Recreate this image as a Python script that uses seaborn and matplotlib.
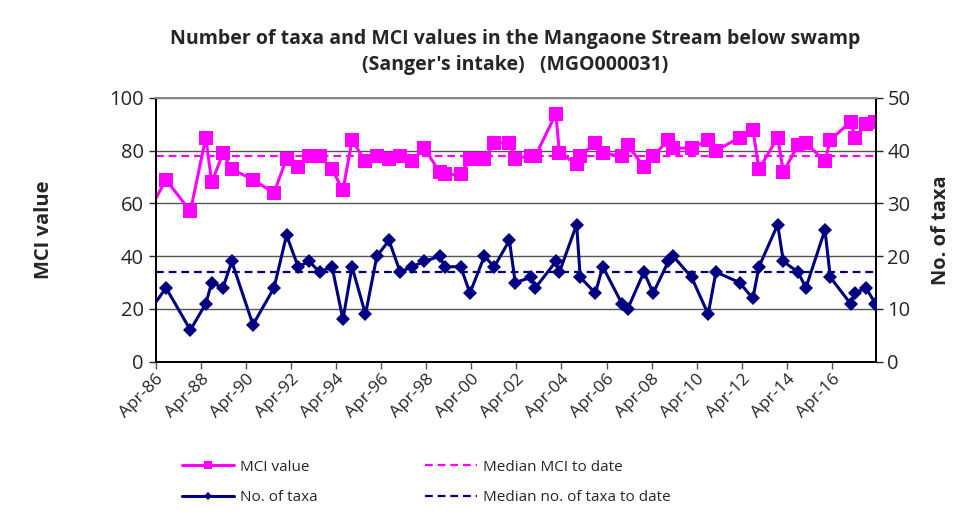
import pandas as pd
import matplotlib
matplotlib.use('Agg')
import matplotlib.pyplot as plt
import matplotlib.dates as mdates
import seaborn as sns

sns.set_style('white')
plt.rcParams['font.family'] = ['Open Sans', 'DejaVu Sans']

# sample dates (first one sits just left of the axis)
sample_dates = ['1985-11-15', '1986-09-15', '1987-10-15', '1988-06-20', '1988-09-25', '1989-03-25',
                '1989-08-15', '1990-07-25', '1991-07-01', '1992-01-20', '1992-07-25', '1993-01-22',
                '1993-07-08', '1994-01-26', '1994-07-22', '1994-12-16', '1995-07-22', '1996-01-22',
                '1996-08-06', '1997-02-03', '1997-08-10', '1998-02-28', '1998-11-03', '1999-01-26',
                '1999-10-12', '2000-03-09', '2000-10-30', '2001-04-08', '2001-12-09', '2002-03-13',
                '2002-11-28', '2003-02-03', '2004-01-01', '2004-02-28', '2004-12-02', '2005-01-30',
                '2005-10-01', '2006-01-30', '2006-12-06', '2007-03-09', '2007-11-28', '2008-04-26',
                '2008-12-27', '2009-03-16', '2010-01-08', '2010-10-04', '2011-02-06', '2012-02-24',
                '2012-09-27', '2013-01-04', '2013-11-03', '2014-02-03', '2014-09-27', '2015-02-03',
                '2015-12-09', '2016-03-05', '2017-01-26', '2017-04-08', '2017-10-04', '2018-03-05']
mci_values = [56, 69, 57, 85, 68, 79, 73, 69, 64, 77, 74, 78, 78, 73, 65, 84, 76, 78, 77, 78,
              76, 81, 72, 71, 71, 77, 77, 83, 83, 77, 78, 78, 94, 79, 75, 78, 83, 79, 78, 82,
              74, 78, 84, 81, 81, 84, 80, 85, 88, 73, 85, 72, 82, 83, 76, 84, 91, 85, 90, 91]
taxa_counts = [9, 14, 6, 11, 15, 14, 19, 7, 14, 24, 18, 19, 17, 18, 8, 18, 9, 20, 23, 17,
               18, 19, 20, 18, 18, 13, 20, 18, 23, 15, 16, 14, 19, 17, 26, 16, 13, 18, 11, 10,
               17, 13, 19, 20, 16, 9, 17, 15, 12, 18, 26, 19, 17, 14, 25, 16, 11, 13, 14, 11]
median_mci = 78
median_taxa = 17

axis_start = '1986-04-01'
axis_end = '2018-03-10'
tick_dates = ['%d-04-01' % y for y in range(1986, 2017, 2)]

df = pd.DataFrame({'date': pd.to_datetime(sample_dates), 'mci': mci_values, 'taxa': taxa_counts})

pink = '#FF00FF'
navy = '#000080'

fig = plt.figure(figsize=(9.69, 5.13), dpi=100)
ax = fig.add_axes([0.1607, 0.295, 0.7430, 0.514])
ax2 = ax.twinx()

sns.lineplot(data=df, x='date', y='mci', ax=ax, color=pink, marker='s', markersize=10.3,
             markeredgewidth=0, linewidth=2.2, label='MCI value', legend=False, zorder=3)
ax.axhline(median_mci, color=pink, linestyle=(0, (3.5, 2.2)), linewidth=1.6,
           label='Median MCI to date', zorder=2)

sns.lineplot(data=df, x='date', y='taxa', ax=ax2, color=navy, marker='D', markersize=7,
             markeredgewidth=0, linewidth=2.2, label='No. of taxa', legend=False, zorder=3)
ax2.axhline(median_taxa, color=navy, linestyle=(0, (3.5, 2.2)), linewidth=1.6,
            label='Median no. of taxa to date', zorder=2)

ax.set_xlim(pd.Timestamp(axis_start), pd.Timestamp(axis_end))
ax.set_ylim(0, 100)
ax2.set_ylim(0, 50)
ax.set_yticks(range(0, 101, 20))
ax2.set_yticks(range(0, 51, 10))
ax.set_xticks(pd.to_datetime(tick_dates))
ax.xaxis.set_major_formatter(mdates.DateFormatter('%b-%y'))

ax.yaxis.grid(True, color='#555555', linewidth=1)
ax.xaxis.grid(False)
ax2.grid(False)

ax.tick_params(axis='x', direction='out', length=5, width=1, color='#555555', labelsize=12.5,
               bottom=True, pad=2)
ax.tick_params(axis='y', direction='out', length=5, width=1, labelsize=14.5, left=True)
ax2.tick_params(axis='y', direction='out', length=5, width=1, labelsize=14.5, right=True)
for lbl in ax.get_xticklabels():
    lbl.set_rotation(45)
    lbl.set_ha('right')
    lbl.set_rotation_mode('anchor')

for a in (ax, ax2):
    for side in ('left', 'right', 'bottom'):
        a.spines[side].set_color('black')
        a.spines[side].set_linewidth(1.3)
    a.spines['top'].set_color('#888888')
    a.spines['top'].set_linewidth(1.3)

ax.set_xlabel('')
ax.set_ylabel('MCI value', fontsize=14.5, fontweight='bold', labelpad=40)
ax2.set_ylabel('No. of taxa', fontsize=14.5, fontweight='bold', labelpad=15)

fig.suptitle("Number of taxa and MCI values in the Mangaone Stream below swamp\n(Sanger's intake)   (MGO000031)",
             x=0.532, y=0.944, fontsize=14, fontweight='bold', linespacing=1.45)

h1, l1 = ax.get_legend_handles_labels()
h2, l2 = ax2.get_legend_handles_labels()
fig.legend([h1[0], h2[0], h1[1], h2[1]], [l1[0], l2[0], l1[1], l2[1]],
           loc='center', bbox_to_anchor=(0.44, 0.06), ncol=2, frameon=False,
           fontsize=11, handlelength=3.4, markerscale=0.6, columnspacing=7.0,
           labelspacing=1.0, handletextpad=0.4)

fig.savefig('out.png', dpi=100)
